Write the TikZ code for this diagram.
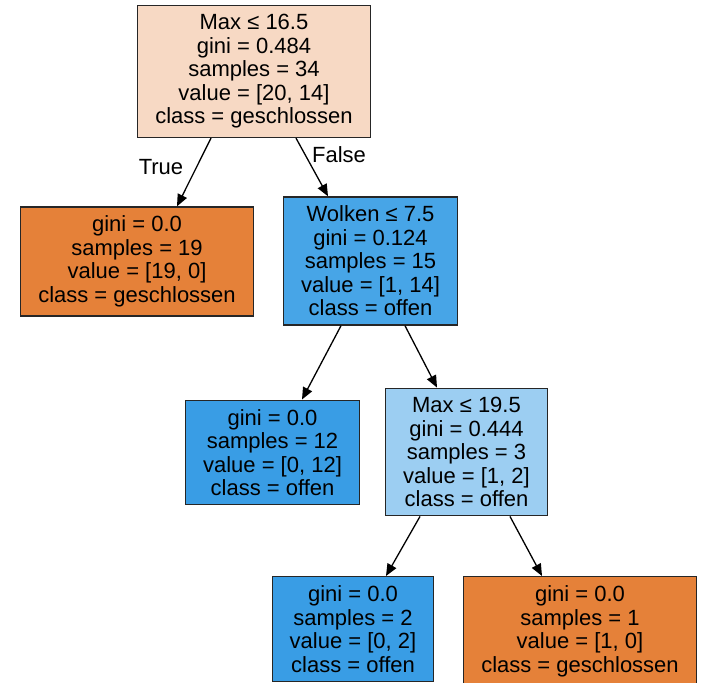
\documentclass[tikz,border=0pt]{standalone}
\usepackage{fontspec}
\setmainfont{Liberation Sans}
\usetikzlibrary{arrows.meta}

\definecolor{rootfill}{RGB}{247,217,196}
\definecolor{orangefill}{RGB}{229,129,57}
\definecolor{bluefill}{RGB}{57,157,229}
\definecolor{midbluefill}{RGB}{71,165,231}
\definecolor{lightbluefill}{RGB}{156,206,242}

\begin{document}
\begin{tikzpicture}[x=1pt, y=-1pt, >={Triangle[length=12pt,width=10pt]},
    treenode/.style={draw=black!85, line width=1.3pt, align=center,
        inner xsep=17.5pt, inner ysep=9pt,
        font=\fontsize{22pt}{23.5pt}\selectfont},
    edge/.style={->, line width=1.3pt},
    edgelabel/.style={font=\fontsize{22pt}{23.5pt}\selectfont}]
        \useasboundingbox (0,0) rectangle (702,683);
        \clip (0,0) rectangle (702,683);

        % Root
        \node[treenode, fill=rootfill] (root) at (254,71.5)
            {Max ≤ 16.5\\gini = 0.484\\samples = 34\\value = [20, 14]\\class = geschlossen};

        % Level 1
        \node[treenode, fill=orangefill] (leafA) at (137,261.5)
            {gini = 0.0\\samples = 19\\value = [19, 0]\\class = geschlossen};
        \node[treenode, fill=midbluefill] (wolken) at (370.5,261)
            {Wolken ≤ 7.5\\gini = 0.124\\samples = 15\\value = [1, 14]\\class = offen};

        % Level 2
        \node[treenode, fill=bluefill] (leafB) at (272.5,452.5)
            {gini = 0.0\\samples = 12\\value = [0, 12]\\class = offen};
        \node[treenode, fill=lightbluefill] (maxB) at (466.5,452)
            {Max ≤ 19.5\\gini = 0.444\\samples = 3\\value = [1, 2]\\class = offen};

        % Level 3 (cut off at the bottom)
        \node[treenode, fill=bluefill, anchor=north] (leafC) at (353,576)
            {gini = 0.0\\samples = 2\\value = [0, 2]\\class = offen};
        \node[treenode, fill=orangefill, anchor=north] (leafD) at (580,576)
            {gini = 0.0\\samples = 1\\value = [1, 0]\\class = geschlossen};

        % Edges
        \draw[edge] ([xshift=-43pt]root.south) -- ([xshift=40pt]leafA.north);
        \draw[edge] ([xshift=42pt]root.south) -- ([xshift=-42.5pt]wolken.north);
        \draw[edge] ([xshift=-29.5pt]wolken.south) -- ([xshift=29.5pt]leafB.north);
        \draw[edge] ([xshift=34.5pt]wolken.south) -- ([xshift=-29.5pt]maxB.north);
        \draw[edge] ([xshift=-46.5pt]maxB.south) -- ([xshift=33pt]leafC.north);
        \draw[edge] ([xshift=43.5pt]maxB.south) -- ([xshift=-38pt]leafD.north);

        % True / False
        \node[edgelabel] (truelbl) at (161,167) {True};
        \node[edgelabel] (falselbl) at (339,155) {False};
    \end{tikzpicture}
\end{document}
